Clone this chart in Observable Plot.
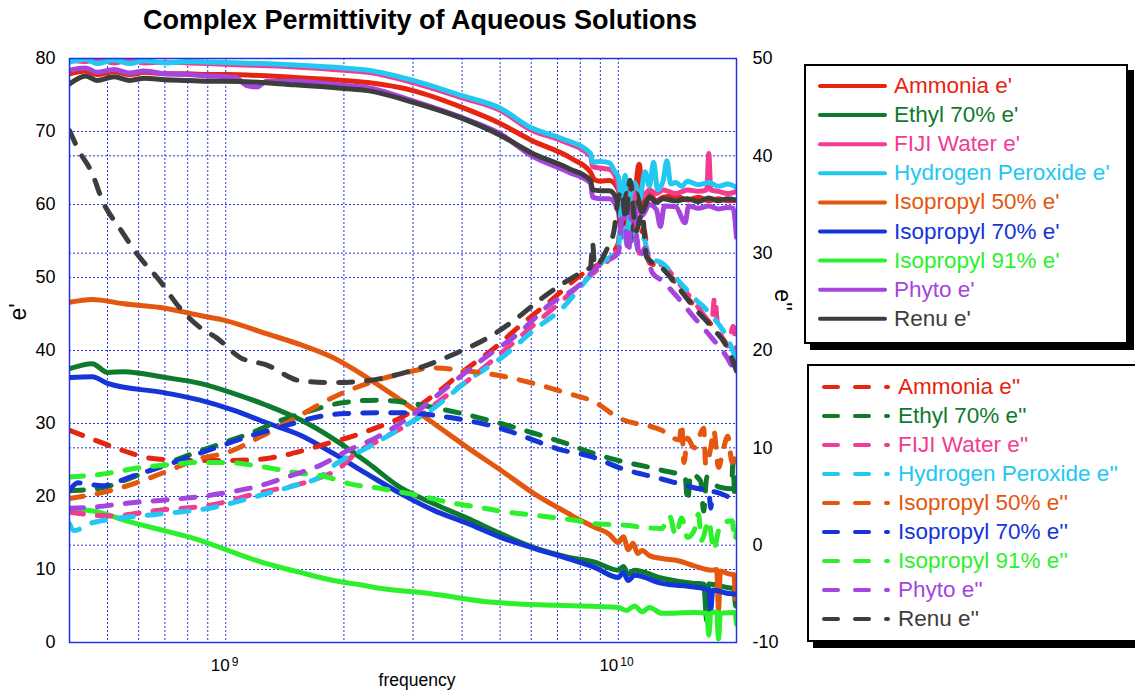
<!DOCTYPE html>
<html>
<head>
<meta charset="utf-8">
<script src="https://cdn.jsdelivr.net/npm/d3@7"></script>
<script src="https://cdn.jsdelivr.net/npm/@observablehq/plot@0.6"></script>
<style>
  html, body { margin: 0; padding: 0; background: #fff; }
  body { font-family: "Liberation Sans", Arial, Helvetica, sans-serif; }
  #wrap { position: relative; width: 1135px; height: 694px; overflow: hidden; background: #fff; }
  #chart { position: absolute; left: 0; top: 0; }
  .title { position: absolute; left: 0; width: 840px; top: 5px; line-height: 30px; text-align: center; font-weight: bold; font-size: 27px; color: #000; }
  .xlabel { position: absolute; left: 317px; width: 200px; top: 670px; line-height: 20px; text-align: center; font-size: 17.5px; }
  .ylab { position: absolute; font-size: 23px; white-space: nowrap; line-height: 24px; }
  .box { position: absolute; box-sizing: border-box; border: 2px solid #000; box-shadow: 6px 6px 0 #000; background: #fff; }
  .lt { position: absolute; font-size: 22.5px; line-height: 28px; white-space: nowrap; }
  #swatches { position: absolute; left: 0; top: 0; }
</style>
</head>
<body>
<div id="wrap">
  <div id="chart"></div>
  <div class="title">Complex Permittivity of Aqueous Solutions</div>
  <div class="xlabel">frequency</div>
  <div class="ylab" style="left:18px;top:312px;transform:translate(-50%,-50%) rotate(-90deg);">e'</div>
  <div class="ylab" style="left:783px;top:300px;transform:translate(-50%,-50%) rotate(90deg);">e''</div>
  <div class="box" style="left:804px;top:64px;width:324px;height:280px;"></div>
  <div class="box" style="left:807px;top:364px;width:340px;height:278px;"></div>
  <svg id="swatches" width="1135" height="694"></svg>
</div>
<script>
// ---------------- DATA ----------------
const names = ["Ammonia", "Ethyl 70%", "FIJI Water", "Hydrogen Peroxide", "Isopropyl 50%", "Isopropyl 70%", "Isopropyl 91%", "Phyto", "Renu"];

// tick values
const leftTicks = [0, 10, 20, 30, 40, 50, 60, 70, 80];
const rightTicks = [-10, 0, 10, 20, 30, 40, 50];
const xGridTicks = [5e8, 6e8, 7e8, 8e8, 9e8, 1e9, 2e9, 3e9, 4e9, 5e9, 6e9, 7e9, 8e9, 9e9, 1e10, 2e10];
const xLabelExps = [9, 10];

// e' (left axis), [GHz, value]
const ammoniaE1 = [[0.40,77.9],[0.44,78.3],[0.47,77.8],[0.52,78.2],[0.57,77.8],[0.62,78.1],[0.70,77.9],[0.80,77.9],[0.90,77.8],[1.0,77.8],[1.5,77.4],[2.0,77.0],[2.3,76.7],[3.0,75.6],[4.0,73.3],[5.0,71.1],[6.0,68.8],[7.6,66.3],[8.5,64.4],[8.7,63.4],[9.0,63.2],[9.5,63.3],[10.0,62.0],[10.2,58.5],[10.5,62.0],[10.8,57.5],[11.3,65.5],[11.6,59.5],[12.0,61.5],[12.5,60.5],[13,61.0],[14,61.2],[15,60.6],[16,61.0],[17,60.5],[18,60.8],[19,60.5],[20,60.6]];
const ethylE1 = [[0.40,37.5],[0.457,38.2],[0.5,37.0],[0.55,37.1],[0.70,36.3],[0.86,35.5],[1.05,34.1],[1.27,32.5],[1.55,30.5],[1.88,27.9],[2.29,24.7],[2.79,21.2],[3.39,19.0],[4.13,17.0],[5.02,14.9],[6.1,13.0],[7.44,11.7],[8.7,11.0],[10.0,9.9],[10.3,10.4],[10.6,9.4],[11.0,9.9],[12.9,8.8],[15.6,8.1],[16.5,8.0],[16.8,3.0],[17.0,8.0],[19.1,7.5],[19.7,7.4],[19.9,5.0],[20,7.4]];
const fijiE1 = [[0.40,79.8],[0.44,79.6],[0.47,79.9],[0.52,79.4],[0.57,79.8],[0.62,79.4],[0.70,79.5],[0.80,79.4],[0.90,79.3],[1.0,79.2],[1.5,78.85],[2.0,78.4],[2.3,78.1],[3.0,76.7],[4.0,74.6],[5.0,72.9],[6.0,70.2],[7.2,68.7],[8.5,66.6],[8.6,65.2],[9.0,65.0],[9.5,64.8],[9.8,64.0],[10.0,62.5],[10.2,59.5],[10.5,63.0],[10.8,58.5],[11.1,62.5],[11.5,61.0],[12.0,62.0],[12.5,61.5],[13,62.0],[14,61.5],[15,62.0],[16,61.8],[16.8,62.0],[17.0,67.0],[17.2,62.0],[18,61.8],[19,61.5],[20,61.8]];
const h2o2E1 = [[0.40,79.5],[0.44,79.9],[0.47,79.3],[0.52,79.8],[0.57,79.3],[0.62,79.7],[0.70,79.4],[0.80,79.6],[0.90,79.5],[1.0,79.45],[1.5,79.1],[2.0,78.7],[2.3,78.4],[3.0,77.0],[4.0,74.9],[5.0,73.2],[6.0,70.5],[7.2,69.0],[8.5,67.0],[8.6,65.8],[9.0,65.9],[9.5,65.7],[9.8,64.5],[10.0,63.8],[10.2,60.0],[10.4,64.0],[10.7,59.0],[11.0,63.0],[11.3,60.5],[11.7,64.5],[12.0,62.5],[12.3,65.8],[12.6,62.0],[13.0,63.2],[13.3,66.0],[13.6,62.8],[14,63.0],[14.5,62.5],[15,63.2],[16,62.7],[17,63.0],[18,62.5],[19,62.8],[20,62.3]];
const iso50E1 = [[0.40,46.6],[0.457,47.0],[0.55,46.4],[0.70,45.8],[0.86,44.8],[1.0,44.1],[1.27,42.3],[1.55,40.8],[1.88,39.0],[2.29,36.3],[2.79,33.2],[3.39,30.0],[4.13,26.7],[5.02,23.6],[6.1,20.4],[7.44,17.7],[8.03,16.7],[8.7,15.8],[9.5,14.8],[10.0,13.7],[10.3,14.5],[10.6,12.7],[10.9,13.6],[11.2,12.2],[11.5,12.6],[12.0,11.9],[12.9,11.5],[14.2,11.2],[15.6,10.5],[17.3,9.9],[17.8,10.0],[18.0,4.5],[18.2,9.8],[19.1,9.4],[19.7,9.3],[19.9,6.0],[20,9.2]];
const iso70E1 = [[0.40,36.3],[0.457,36.4],[0.5,35.5],[0.70,34.2],[0.86,33.2],[1.05,31.8],[1.27,30.1],[1.55,28.4],[1.88,25.9],[2.29,23.1],[2.79,20.4],[3.39,18.1],[4.13,16.3],[5.02,14.4],[6.1,12.9],[7.44,11.5],[8.7,10.3],[10.0,8.9],[10.3,9.6],[10.6,8.5],[11.0,9.2],[12.9,8.1],[15.6,7.6],[17.0,7.2],[17.2,4.5],[17.4,7.2],[19.1,6.7],[20,6.6]];
const iso91E1 = [[0.40,18.4],[0.48,17.8],[0.555,16.7],[0.70,15.3],[0.86,14.0],[1.05,12.3],[1.27,10.8],[1.55,9.6],[1.88,8.5],[2.2,7.9],[2.5,7.4],[3.3,6.7],[4.8,5.5],[7.0,5.1],[10.0,4.8],[10.5,4.4],[11.0,5.0],[11.5,4.2],[12.0,4.8],[12.9,4.0],[15.6,4.1],[16.8,4.0],[17.0,1.0],[17.2,4.0],[17.8,4.2],[18.0,0.5],[18.2,4.0],[19.8,4.1],[20,2.5]];
const phytoE1 = [[0.40,78.4],[0.44,78.7],[0.47,78.1],[0.52,78.5],[0.57,78.0],[0.62,78.3],[0.70,77.9],[0.80,77.8],[0.90,77.6],[1.0,77.5],[1.06,77.4],[1.13,76.3],[1.2,76.1],[1.27,76.9],[1.5,76.9],[2.0,76.3],[2.3,76.0],[3.0,74.2],[4.0,71.9],[5.0,69.7],[6.0,66.7],[7.5,64.4],[8.5,62.9],[8.6,61.0],[9.0,60.8],[9.5,60.8],[10.0,59.0],[10.2,55.5],[10.5,60.5],[10.8,55.0],[11.1,60.5],[11.5,58.5],[12.0,60.0],[12.5,59.3],[12.8,57.0],[13.1,59.8],[14,59.7],[14.8,57.5],[15.1,59.8],[16,59.5],[17,59.8],[18,59.4],[19,59.6],[19.6,59.5],[20,55.5]];
const renuE1 = [[0.40,76.5],[0.44,77.6],[0.47,77.0],[0.52,77.5],[0.57,77.0],[0.62,77.3],[0.70,77.1],[0.80,77.0],[0.90,76.9],[1.0,76.9],[1.5,76.4],[2.0,75.9],[2.3,75.6],[3.0,74.0],[4.0,71.8],[5.0,69.5],[6.0,67.1],[7.5,64.9],[8.5,63.3],[8.6,62.0],[9.0,61.9],[9.5,61.9],[9.8,61.2],[10.0,60.0],[10.2,56.5],[10.5,61.5],[10.8,55.5],[11.1,61.5],[11.5,59.0],[12.0,61.0],[12.5,60.3],[13,60.8],[14,60.5],[15,60.8],[16,60.4],[17,60.9],[18,60.5],[19,60.8],[20,60.6]];

// e'' (right axis), [GHz, value]
const ammoniaE2 = [[0.40,11.8],[0.45,11.0],[0.50,10.3],[0.55,9.7],[0.65,8.9],[0.80,8.7],[1.0,8.7],[1.2,8.8],[1.4,9.2],[1.6,9.8],[1.8,10.4],[2.07,11.1],[2.43,12.1],[2.79,13.1],[3.46,15.7],[4.04,17.9],[4.82,20.2],[5.75,22.9],[6.63,24.9],[8.0,27.7],[9.0,29.0],[9.5,29.8],[10.0,31.0],[10.2,35.5],[10.5,32.5],[10.8,37.0],[11.2,31.0],[11.6,32.5],[12.0,29.0],[12.9,28.6],[14.2,26.6],[15.6,24.6],[17.3,22.6],[19.1,20.3],[20,18.7]];
const ethylE2 = [[0.40,5.6],[0.485,5.9],[0.58,7.0],[0.69,8.2],[0.823,9.4],[0.97,10.4],[1.17,11.6],[1.38,12.8],[1.64,13.8],[1.96,14.6],[2.43,14.9],[2.96,14.6],[3.52,14.0],[4.22,13.3],[5.02,12.5],[6.1,11.5],[7.3,10.5],[8.7,9.4],[10.0,8.7],[12.9,7.7],[14.8,7.0],[15.0,4.5],[15.3,7.3],[16.2,6.6],[16.5,3.5],[16.8,7.0],[18.0,6.0],[19.4,5.8],[19.6,8.5],[19.8,5.0],[20,5.6]];
const fijiE2 = [[0.40,3.4],[0.505,3.0],[0.678,3.6],[0.91,4.1],[1.22,5.4],[1.64,6.6],[1.96,8.0],[2.11,9.2],[2.52,11.0],[2.96,12.6],[3.52,14.9],[4.13,16.9],[5.02,19.7],[6.0,22.4],[6.86,24.4],[8.0,26.8],[9.0,28.6],[10.0,30.5],[10.3,35.0],[10.6,31.5],[10.9,36.5],[11.3,30.0],[11.6,31.0],[12.0,29.0],[12.9,28.8],[14.2,27.0],[15.6,25.0],[17.3,23.0],[17.6,25.5],[17.9,22.7],[19.1,20.5],[19.6,22.5],[20,19.5]];
const h2o2E2 = [[0.40,2.2],[0.41,1.5],[0.457,2.3],[0.678,3.2],[0.91,3.8],[1.22,5.1],[1.55,6.3],[1.72,6.9],[1.9,8.3],[2.29,10.0],[2.79,12.0],[3.39,14.1],[4.13,16.9],[5.02,19.2],[6.1,22.1],[7.3,24.6],[8.0,26.5],[9.0,28.9],[10.0,30.5],[10.25,36.0],[10.5,31.0],[10.8,36.5],[11.2,30.5],[11.6,31.5],[12.0,29.5],[12.9,29.0],[14.2,27.2],[15.6,25.4],[17.3,23.6],[19.1,21.0],[20,19.0]];
const iso50E2 = [[0.40,4.8],[0.485,5.4],[0.592,6.4],[0.719,7.7],[0.858,8.9],[1.006,9.5],[1.22,11.1],[1.48,12.9],[1.88,15.2],[2.29,16.6],[2.79,17.6],[3.39,18.2],[4.13,17.9],[5.02,17.4],[6.1,16.6],[7.44,15.6],[8.7,14.7],[10.0,13.1],[12.9,11.8],[14.3,10.8],[14.5,12.5],[14.7,8.5],[15.0,11.0],[15.6,10.0],[16.5,12.0],[16.7,8.2],[17.2,10.0],[17.5,11.8],[18.0,8.0],[18.5,9.8],[19.0,11.2],[19.5,8.5],[20,9.7]];
const iso70E2 = [[0.40,5.6],[0.42,6.4],[0.485,6.1],[0.57,7.0],[0.678,8.0],[0.80,9.0],[0.94,10.0],[1.17,11.3],[1.38,12.1],[1.64,13.0],[1.96,13.5],[2.5,13.6],[2.88,13.6],[3.46,13.3],[4.13,12.8],[5.02,12.0],[5.9,11.0],[7.0,9.9],[8.7,9.0],[10.0,8.0],[12.9,6.8],[15.6,5.9],[17.0,5.5],[17.2,3.8],[17.4,5.5],[19.6,4.9],[20,5.0]];
const iso91E2 = [[0.40,7.0],[0.505,7.4],[0.59,7.9],[0.69,8.2],[0.858,8.5],[1.006,8.5],[1.22,8.1],[1.48,7.5],[1.81,7.0],[2.07,6.3],[2.5,5.8],[3.1,5.1],[3.7,4.4],[4.4,3.9],[5.2,3.4],[6.35,3.0],[7.9,2.5],[8.7,2.2],[10.0,2.1],[12.9,1.7],[13.5,3.0],[14.0,1.0],[14.5,2.8],[15.0,0.8],[15.6,1.5],[16.0,3.2],[16.3,0.5],[17.0,2.5],[17.5,-0.5],[18.0,1.5],[18.5,2.3],[19.5,2.5],[19.8,0.5],[20,1.5]];
const phytoE2 = [[0.40,3.8],[0.457,3.9],[0.558,4.3],[0.678,4.6],[0.823,4.9],[1.006,5.4],[1.22,6.1],[1.48,7.2],[1.74,8.2],[2.04,9.7],[2.43,11.1],[2.9,13.0],[3.46,15.4],[4.04,17.6],[4.73,19.7],[5.55,21.7],[6.63,24.6],[8.0,26.8],[9.0,28.9],[10.0,30.0],[10.3,35.0],[10.6,30.0],[10.9,35.5],[11.3,29.5],[11.7,30.5],[12.2,28.0],[12.9,27.2],[14.2,25.4],[15.6,23.4],[17.3,21.3],[19.1,19.0],[20,17.4]];
const renuE2 = [[0.40,42.6],[0.423,40.5],[0.457,38.2],[0.485,35.4],[0.536,32.6],[0.603,29.6],[0.678,27.2],[0.763,24.4],[0.858,22.4],[0.948,21.3],[1.086,19.3],[1.273,18.5],[1.546,16.9],[1.877,16.7],[2.29,16.9],[2.785,17.6],[3.26,18.5],[3.9,19.8],[4.65,21.3],[5.55,23.4],[6.35,25.3],[7.44,27.2],[8.03,28.0],[8.5,28.6],[8.6,31.0],[8.7,28.7],[9.4,30.6],[9.75,32.3],[10.0,35.7],[10.2,36.4],[10.45,33.4],[10.7,37.5],[11.1,32.3],[11.5,34.1],[11.8,29.6],[12.9,28.5],[14.2,26.5],[15.6,24.4],[17.3,22.4],[19.1,20.0],[20,17.9]];

// ---------------- STYLE ----------------
const colors = ["#e62410", "#0e7a2c", "#f23c92", "#22c7f2", "#e4570e", "#1535d8", "#2cf02c", "#a445dd", "#3d3d3d"];
const gridColor = "#1f33e0";
const lw = 5;

const eReal = [ammoniaE1, ethylE1, fijiE1, h2o2E1, iso50E1, iso70E1, iso91E1, phytoE1, renuE1];
const eImag = [ammoniaE2, ethylE2, fijiE2, h2o2E2, iso50E2, iso70E2, iso91E2, phytoE2, renuE2];

// right axis (e'') mapped onto the left scale domain
const toLeft = d3.scaleLinear().domain([-10, 50]).range([0, 80]);

// per-label offsets for "10" + superscript exponent
const expLayout = { 9: { baseDx: 4, supDx: 6 }, 10: { baseDx: 0, supDx: 2 } };

const marks = [
  Plot.gridX(xGridTicks, { stroke: gridColor, strokeOpacity: 1, strokeWidth: 1, strokeDasharray: "2,2" }),
  Plot.gridY([...leftTicks, ...rightTicks.map(d => toLeft(d))], { stroke: gridColor, strokeOpacity: 1, strokeWidth: 1, strokeDasharray: "2,2" }),
  Plot.axisY(leftTicks, { anchor: "left", tickSize: 0, tickPadding: 14, fontSize: 18, label: null }),
  Plot.axisY(rightTicks.map(d => toLeft(d)), { anchor: "right", tickSize: 0, tickPadding: 16, fontSize: 18, label: null,
    tickFormat: d => String(Math.round(toLeft.invert(d))) }),
  ...eReal.map((arr, i) => Plot.line(arr, {
    x: d => d[0] * 1e9, y: d => d[1], stroke: colors[i], strokeWidth: lw,
    curve: "monotone-x", strokeLinecap: "round", strokeLinejoin: "round", clip: true })),
  ...eImag.map((arr, i) => Plot.line(arr, {
    x: d => d[0] * 1e9, y: d => toLeft(d[1]), stroke: colors[i], strokeWidth: lw,
    strokeDasharray: "14,14", curve: "monotone-x", strokeLinecap: "round", strokeLinejoin: "round", clip: true })),
  Plot.frame({ stroke: gridColor, strokeWidth: 1.5 }),
];
xLabelExps.forEach(e => {
  marks.push(Plot.text([e], { x: d => 10 ** d, frameAnchor: "bottom", dy: 28, dx: expLayout[e].baseDx,
    text: () => "10", textAnchor: "end", fontSize: 17, fill: "#000" }));
  marks.push(Plot.text([e], { x: d => 10 ** d, frameAnchor: "bottom", dy: 23, dx: expLayout[e].supDx,
    text: d => String(d), textAnchor: "start", fontSize: 12, fill: "#000" }));
});

const chart = Plot.plot({
  width: 800, height: 694,
  marginLeft: 69, marginRight: 64, marginTop: 58, marginBottom: 52,
  x: { type: "log", domain: [4e8, 2e10], axis: null },
  y: { domain: [0, 80] },
  style: { fontFamily: "'Liberation Sans', Arial, Helvetica, sans-serif", background: "transparent", color: "#000" },
  marks
});
document.getElementById("chart").appendChild(chart);

// ---------------- LEGENDS ----------------
const sw = d3.select("#swatches");
const wrap = document.getElementById("wrap");
names.forEach((n, i) => {
  const y1 = 86 + 29.1 * i;
  sw.append("line").attr("x1", 820).attr("x2", 885).attr("y1", y1).attr("y2", y1)
    .attr("stroke", colors[i]).attr("stroke-width", 4).attr("stroke-linecap", "round");
  const t1 = document.createElement("div");
  t1.className = "lt"; t1.style.left = "894px"; t1.style.top = (y1 - 14) + "px"; t1.style.color = colors[i];
  t1.textContent = n + " e'";
  wrap.appendChild(t1);

  const y2 = 387 + 29 * i;
  sw.append("line").attr("x1", 824).attr("x2", 888).attr("y1", y2).attr("y2", y2)
    .attr("stroke", colors[i]).attr("stroke-width", 4).attr("stroke-linecap", "round")
    .attr("stroke-dasharray", "14,17,14,17,2");
  const t2 = document.createElement("div");
  t2.className = "lt"; t2.style.left = "898px"; t2.style.top = (y2 - 14) + "px"; t2.style.color = colors[i];
  t2.textContent = n + " e''";
  wrap.appendChild(t2);
});
</script>
</body>
</html>
